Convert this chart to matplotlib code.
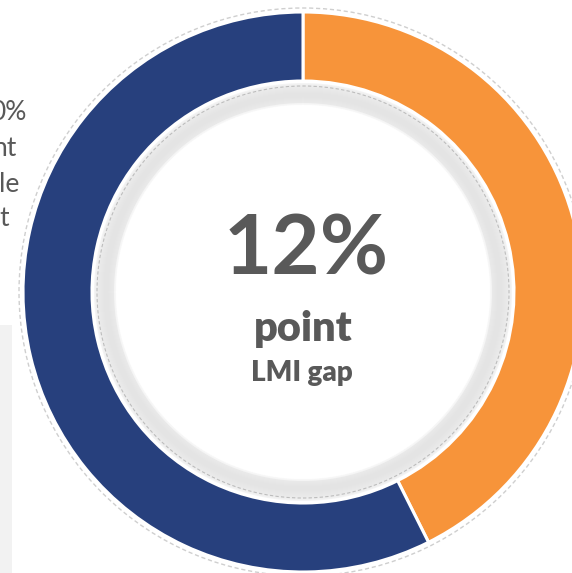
import matplotlib
matplotlib.use("Agg")
import matplotlib.pyplot as plt
from matplotlib.patches import Circle, Rectangle
import numpy as np

# data
labels = ["Group A", "Group B"]
values = [42.6, 57.4]
colors = ["#F7943A", "#27407D"]
center_big = "12%"
center_mid = "point"
center_small = "LMI gap"
side_lines = ["0%", "nt", "le", "t"]

W, H = 572, 573
fig = plt.figure(figsize=(W / 100, H / 100), dpi=100)
ax = fig.add_axes([0, 0, 1, 1])

cx, cy = 303, H - 292
R, r = 280, 211

# left grey panel
ax.add_patch(Rectangle((0, 0), 12, H - 325, facecolor="#f2f2f2", edgecolor="none", zorder=0))

# outer dashed circle
ax.add_patch(Circle((cx, cy), 284, facecolor="white", edgecolor="#cfcfcf",
                    linewidth=1.0, linestyle=(0, (3, 2)), zorder=1))

ax.pie(values, colors=colors, startangle=90, counterclock=False,
       radius=R, center=(cx, cy), frame=True,
       wedgeprops=dict(width=R - r, edgecolor="white", linewidth=2.2))

# inner shadow band
radii = np.linspace(209, 186, 24)
for rad in radii:
    t = (209 - rad) / 23.0
    g = 0.955 - 0.06 * np.sin(np.pi * t) ** 0.8
    if t > 0.85:
        g = 0.955 + (t - 0.85) / 0.15 * 0.045
    ax.add_patch(Circle((cx, cy), rad, facecolor=(g, g, g), edgecolor="none", zorder=3))
ax.add_patch(Circle((cx, cy), 187, facecolor="white", edgecolor="none", zorder=4))
ax.add_patch(Circle((cx, cy), 206, facecolor="none", edgecolor="#bdbdbd",
                    linewidth=0.8, linestyle=(0, (3, 2)), zorder=5))

txtc = "#595959"
fam = ["Lato", "DejaVu Sans"]
ax.text(306, H - 251, center_big, ha="center", va="center", fontsize=60,
        fontweight="bold", color=txtc, family=fam, zorder=6)
ax.text(303, H - 329, center_mid, ha="center", va="center", fontsize=30,
        fontweight="heavy", color=txtc, family=fam, zorder=6)
ax.text(302, H - 373, center_small, ha="center", va="center", fontsize=20,
        fontweight="heavy", color=txtc, family=fam, zorder=6)

side_x = [27, 16, 19, 9]
side_y = [113, 149, 184, 219]
for s, x, y in zip(side_lines, side_x, side_y):
    ax.text(x, H - y, s, ha="right", va="center", fontsize=19, color=txtc,
            family=fam, zorder=6)

ax.set_xlim(0, W)
ax.set_ylim(0, H)
ax.set_aspect("auto")
ax.axis("off")
fig.savefig("out.png", dpi=100)
